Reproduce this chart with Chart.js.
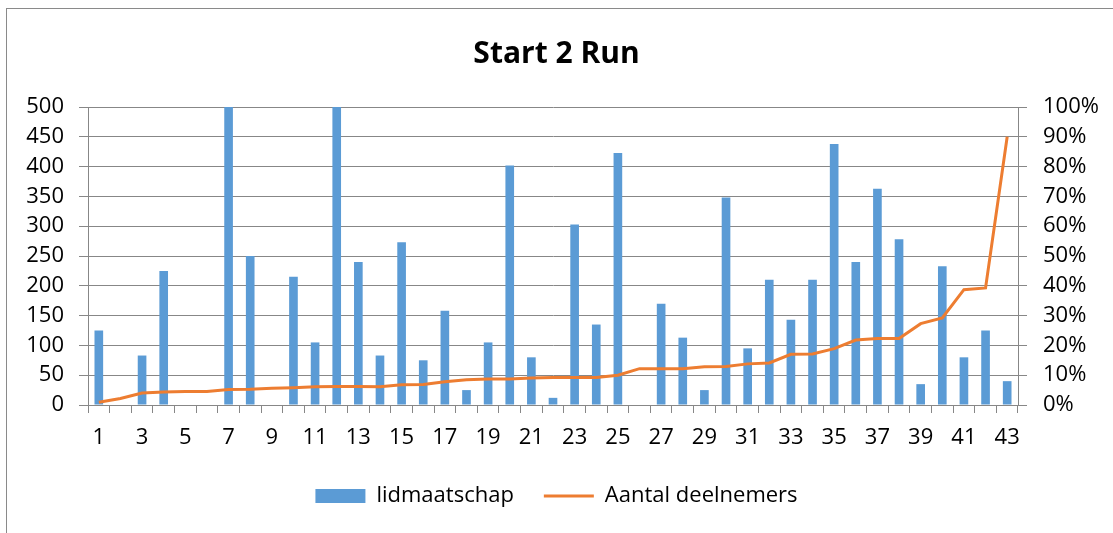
<!DOCTYPE html>
<html>
<head>
<meta charset="utf-8">
<script src="https://cdn.jsdelivr.net/npm/chart.js@4"></script>
<style>
    body { margin: 0; background: #fff; }
    .chart-wrap { position: relative; width: 1113px; height: 533px; }
    .chart-frame {
        position: absolute;
        left: 6px; top: 8px; right: 0; bottom: 0;
        border-top: 1px solid #8a8a8a;
        border-left: 1px solid #8a8a8a;
        pointer-events: none;
    }
    canvas { position: absolute; left: 0; top: 0; }
</style>
</head>
<body>
<div class="chart-wrap">
    <canvas id="start2RunChart" width="1113" height="533"></canvas>
    <div class="chart-frame"></div>
</div>
<script>
const runNumbers = ['1','2','3','4','5','6','7','8','9','10','11','12','13','14','15','16','17','18','19','20','21','22',
    '23','24','25','26','27','28','29','30','31','32','33','34','35','36','37','38','39','40','41','42','43'];

// lidmaatschap (left axis)
const membership = [125, 0, 83, 225, 0, 0, 500, 250, 0, 215, 105, 500, 240, 83, 273, 75, 158, 25, 105, 402, 80, 12,
    303, 135, 423, 0, 170, 113, 25, 348, 95, 210, 143, 210, 438, 240, 363, 278, 35, 233, 80, 125, 40];

// Aantal deelnemers, cumulatief in % (right axis)
const participants = [0.9, 2.2, 4.0, 4.4, 4.5, 4.5, 5.2, 5.3, 5.6, 5.8, 6.1, 6.2, 6.2, 6.1, 6.8, 6.9, 7.8, 8.5, 8.7, 8.7, 9.1, 9.2,
    9.2, 9.2, 10.0, 12.2, 12.2, 12.2, 12.8, 12.9, 13.8, 14.1, 17.0, 17.1, 18.9, 21.8, 22.3, 22.3, 27.3, 29.2, 38.7, 39.3, 90.0];

const leftTicks = { min: 0, max: 500, step: 50 };
const rightTicks = { min: 0, max: 100, step: 10 };

const gridGrey = '#878787';
const fontFamily = "'Open Sans', sans-serif";

const ctx = document.getElementById('start2RunChart').getContext('2d');
new Chart(ctx, {
    type: 'bar',
    data: {
        labels: runNumbers,
        datasets: [{
            type: 'line',
            label: 'Aantal deelnemers',
            data: participants,
            yAxisID: 'yRight',
            borderColor: '#ED7D31',
            backgroundColor: '#ED7D31',
            borderWidth: 3,
            pointRadius: 0,
            pointStyle: 'line',
            tension: 0
        }, {
            label: 'lidmaatschap',
            data: membership,
            yAxisID: 'y',
            backgroundColor: '#5B9BD5',
            borderWidth: 0,
            pointStyle: 'rect',
            barPercentage: 0.4,
            categoryPercentage: 1.0
        }]
    },
    options: {
        responsive: false,
        animation: false,
        devicePixelRatio: 1,
        layout: { padding: { left: 0, right: 0, top: 0, bottom: 16 } },
        plugins: {
            tooltip: { enabled: false },
            title: {
                display: true,
                text: 'Start 2 Run',
                color: '#000',
                font: { family: fontFamily, size: 30, weight: 'bold' },
                padding: { top: 36, bottom: 35 }
            },
            legend: {
                position: 'bottom',
                labels: {
                    color: '#000',
                    font: { family: fontFamily, size: 22 },
                    usePointStyle: true,
                    pointStyleWidth: 50,
                    boxHeight: 14,
                    padding: 30,
                    sort: (a, b) => b.datasetIndex - a.datasetIndex
                }
            }
        },
        scales: {
            x: {
                offset: true,
                grid: {
                    offset: true,
                    drawOnChartArea: false,
                    drawTicks: true,
                    tickLength: 8,
                    color: gridGrey
                },
                border: { color: gridGrey },
                ticks: {
                    autoSkip: false,
                    maxRotation: 0,
                    padding: 12,
                    color: '#000',
                    font: { family: fontFamily, size: 22 },
                    callback: function (value, index) {
                        return index % 2 === 0 ? this.getLabelForValue(value) : '';
                    }
                },
                afterFit: (scale) => { scale.height = 50; }
            },
            y: {
                position: 'left',
                min: leftTicks.min,
                max: leftTicks.max,
                grid: { color: gridGrey, tickLength: 9 },
                border: { color: gridGrey },
                ticks: {
                    stepSize: leftTicks.step,
                    padding: 15,
                    color: '#000',
                    font: { family: fontFamily, size: 22 }
                },
                afterFit: (scale) => { scale.width = 88; }
            },
            yRight: {
                position: 'right',
                min: rightTicks.min,
                max: rightTicks.max,
                grid: { drawOnChartArea: false, color: gridGrey, tickLength: 9 },
                border: { color: gridGrey },
                ticks: {
                    stepSize: rightTicks.step,
                    padding: 16,
                    color: '#000',
                    font: { family: fontFamily, size: 22 },
                    callback: (v) => v + '%'
                },
                afterFit: (scale) => { scale.width = 95; }
            }
        }
    }
});
</script>
</body>
</html>
